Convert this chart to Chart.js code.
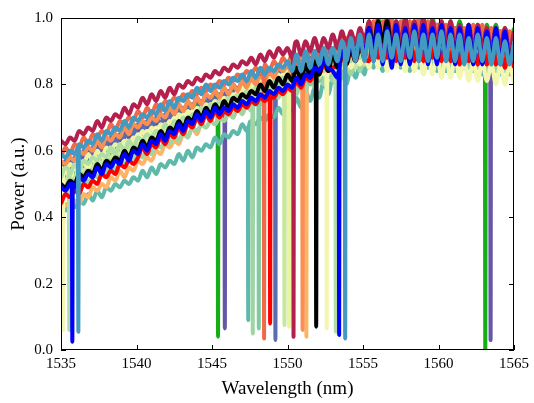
<!DOCTYPE html>
<html>
<head>
<meta charset="utf-8">
<script src="https://cdn.jsdelivr.net/npm/chart.js@4.4.0/dist/chart.umd.min.js"></script>
<style>
  html, body { margin: 0; padding: 0; background: #fff; }
  #wrap { width: 534px; height: 403px; }
</style>
</head>
<body>
<div id="wrap"><canvas id="spectra" width="534" height="403"></canvas></div>
<script>
// spectra sampled every 0.3 nm from 1535 nm (101 samples each)
const wlStart = 1535;
const wlStep = 0.3;

const xTickValues = [1535, 1540, 1545, 1550, 1555, 1560, 1565];
const xTickLabels = ['1535', '1540', '1545', '1550', '1555', '1560', '1565'];
const yTickValues = [0, 0.2, 0.4, 0.6, 0.8, 1.0];
const yTickLabels = ['0.0', '0.2', '0.4', '0.6', '0.8', '1.0'];

// power values (a.u.)
const powerCrimson = [.63,.62,.64,.63,.66,.65,.67,.66,.69,.67,.70,.69,.71,.70,.73,.71,.74,
  .73,.76,.74,.77,.75,.78,.76,.79,.77,.80,.79,.81,.80,.82,.81,.83,.82,
  .84,.83,.85,.84,.86,.85,.87,.86,.88,.86,.89,.87,.90,.88,.91,.89,.91,
  .88,.93,.89,.93,.90,.94,.90,.94,.91,.95,.91,.96,.92,.96,.92,.97,.93,
  .99,.92,.99,.92,1.00,.93,.99,.92,1.00,.93,.99,.93,1.00,.92,.99,.93,.99,.92,.99,.91,.98,.92,.98,.91,.98,.91,.97,.90,.97,.91,.97,.90,.96];
const powerOrange = [.58,.61,.59,.62,.61,.64,.62,.65,.64,.66,.65,.68,.66,.69,.68,.70,.69,
  .72,.70,.73,.71,.74,.72,.75,.74,.76,.75,.77,.76,.78,.77,.79,.78,.80,
  .79,.81,.80,.82,.81,.83,.82,.84,.83,.85,.83,.86,.84,.87,.85,.88,.86,
  .89,.86,.90,.86,.91,.87,.91,.88,.92,.89,.93,.89,.94,.90,.94,.91,.95,
  .92,.99,.91,.99,.92,1.00,.92,.99,.91,.99,.92,1.00,.92,.99,.91,.98,.91,.98,.90,.97,.90,.97,.91,.98,.91,.98,.90,.97,.90,.96,.89,.96,.89];
const powerOrange2 = [.57,.56,.58,.57,.60,.59,.61,.60,.63,.61,.64,.63,.65,.64,.67,.65,.68,
  .67,.69,.68,.70,.69,.71,.70,.73,.71,.74,.72,.75,.73,.76,.74,.77,.76,
  .78,.76,.79,.77,.80,.78,.81,.79,.82,.80,.83,.81,.84,.82,.85,.84,.86,
  .83,.88,.84,.89,.85,.90,.86,.90,.87,.91,.88,.92,.88,.93,.89,.94,.90,
  .98,.90,.98,.91,.98,.90,.97,.91,.98,.91,.99,.91,.98,.90,.98,.91,.97,.90,.97,.90,.97,.91,.98,.90,.97,.90,.96,.89,.96,.89,.96,.90,.95];
const powerLightOrange = [.41,.44,.43,.45,.44,.47,.46,.49,.48,.50,.49,.52,.51,.54,.52,.55,.54,
  .57,.56,.58,.57,.60,.59,.62,.61,.63,.62,.65,.64,.67,.65,.68,.67,.69,
  .68,.70,.69,.72,.70,.73,.72,.74,.73,.76,.74,.77,.76,.78,.77,.79,.78,
  .82,.78,.83,.79,.84,.80,.85,.81,.86,.82,.87,.83,.88,.84,.89,.86,.90,
  .88,.94,.88,.95,.88,.94,.88,.95,.89,.95,.88,.94,.87,.94,.88,.95,.88,.94,.87,.94,.87,.93,.87,.94,.88,.94,.87,.93,.86,.93,.87,.93,.86];
const powerPaleGreen = [.55,.54,.56,.55,.57,.56,.59,.57,.60,.58,.61,.60,.62,.61,.63,.62,.64,
  .63,.66,.64,.67,.65,.68,.67,.69,.68,.71,.69,.72,.70,.73,.72,.74,.73,
  .75,.74,.76,.75,.77,.76,.79,.77,.80,.78,.81,.79,.82,.80,.83,.81,.84,
  .81,.86,.82,.87,.83,.88,.84,.88,.85,.89,.86,.90,.86,.91,.87,.92,.88,
  .95,.89,.95,.89,.96,.89,.95,.90,.95,.89,.95,.88,.94,.89,.95,.88,.94,.88,.94,.87,.93,.87,.93,.86,.93,.86,.92,.86,.92,.85,.91,.85,.91];
const powerPale = [.51,.54,.52,.55,.54,.57,.55,.58,.57,.59,.58,.61,.59,.62,.61,.63,.62,
  .65,.63,.66,.64,.67,.66,.68,.67,.70,.68,.71,.69,.72,.71,.73,.72,.74,
  .73,.75,.74,.76,.75,.78,.76,.79,.77,.80,.79,.81,.80,.82,.81,.83,.82,
  .85,.82,.86,.82,.87,.83,.87,.83,.88,.84,.88,.85,.89,.85,.90,.86,.90,
  .85,.91,.85,.91,.84,.91,.85,.90,.84,.90,.84,.90,.83,.89,.83,.89,.82,.88,.82,.88,.82,.87,.81,.87,.81,.87,.81,.86,.80,.86,.80,.86,.80];
const powerYellowGreen = [.52,.51,.53,.52,.55,.54,.56,.55,.58,.56,.59,.58,.60,.59,.62,.60,.63,
  .62,.64,.63,.65,.64,.67,.65,.68,.67,.69,.68,.70,.69,.72,.70,.73,.71,
  .74,.72,.75,.73,.76,.74,.77,.75,.78,.76,.79,.77,.80,.78,.81,.79,.82,
  .79,.84,.80,.85,.81,.86,.82,.86,.83,.87,.84,.88,.84,.89,.85,.90,.86,
  .94,.87,.94,.86,.93,.87,.94,.86,.93,.87,.94,.87,.93,.86,.94,.86,.93,.87,.93,.86,.93,.86,.92,.86,.93,.86,.92,.85,.92,.85,.91,.85,.91];
const powerLightGreen = [.46,.49,.47,.50,.49,.52,.50,.53,.52,.54,.53,.56,.54,.57,.56,.58,.57,
  .60,.58,.61,.59,.62,.61,.63,.62,.65,.63,.66,.64,.67,.66,.68,.67,.69,
  .68,.70,.69,.71,.70,.73,.71,.74,.72,.75,.74,.76,.75,.77,.76,.78,.77,
  .81,.77,.82,.78,.83,.79,.84,.80,.85,.81,.86,.82,.87,.83,.88,.84,.89,
  .85,.93,.86,.92,.85,.93,.86,.92,.85,.93,.85,.92,.86,.93,.85,.92,.85,.92,.85,.93,.86,.92,.85,.92,.85,.91,.84,.91,.84,.91,.84,.90,.84];
const powerMint = [.51,.50,.52,.51,.54,.53,.55,.54,.57,.55,.58,.57,.59,.58,.61,.59,.62,
  .61,.63,.62,.64,.63,.65,.64,.67,.65,.68,.66,.69,.67,.70,.68,.71,.69,
  .72,.70,.73,.71,.74,.72,.75,.73,.76,.74,.77,.75,.78,.76,.79,.77,.80,
  .78,.82,.79,.83,.80,.84,.81,.85,.82,.86,.83,.87,.84,.88,.85,.90,.86,
  .94,.87,.93,.86,.94,.87,.94,.86,.93,.87,.93,.86,.94,.87,.93,.86,.93,.86,.93,.87,.94,.87,.93,.86,.92,.86,.92,.85,.92,.86,.92,.85,.91];
const powerLightGreen2 = [.52,.55,.53,.56,.54,.57,.56,.58,.57,.59,.58,.61,.59,.62,.60,.63,.61,
  .64,.63,.65,.64,.66,.65,.68,.66,.69,.68,.70,.69,.71,.70,.73,.71,.74,
  .73,.75,.74,.76,.75,.77,.76,.78,.77,.79,.78,.80,.79,.81,.80,.82,.81,
  .85,.81,.85,.82,.86,.83,.87,.84,.88,.85,.89,.86,.90,.87,.91,.88,.92,
  .88,.95,.89,.96,.88,.95,.89,.96,.88,.95,.88,.96,.89,.95,.88,.95,.88,.96,.89,.95,.88,.95,.88,.94,.87,.94,.88,.95,.87,.94,.87,.94,.87];
const powerTeal = [.43,.42,.44,.43,.45,.44,.47,.45,.48,.46,.49,.48,.50,.49,.51,.50,.52,
  .51,.54,.52,.55,.53,.56,.55,.57,.56,.59,.57,.60,.58,.61,.60,.62,.61,
  .64,.62,.65,.64,.66,.65,.68,.66,.69,.68,.70,.69,.71,.70,.73,.71,.74,
  .72,.76,.73,.78,.75,.79,.76,.81,.77,.82,.79,.84,.80,.85,.82,.86,.83,
  .92,.85,.92,.84,.91,.85,.92,.85,.92,.84,.91,.85,.92,.85,.91,.84,.91,.84,.90,.84,.91,.85,.91,.84,.90,.83,.90,.84,.90,.83,.89,.83,.89];
const powerSlate = [.54,.57,.55,.58,.57,.60,.58,.61,.60,.62,.61,.64,.62,.65,.64,.66,.65,
  .68,.66,.69,.67,.70,.68,.71,.70,.72,.71,.73,.72,.74,.73,.75,.74,.76,
  .75,.77,.76,.78,.77,.79,.78,.80,.79,.81,.80,.82,.81,.83,.82,.84,.83,
  .87,.83,.87,.84,.88,.85,.89,.86,.90,.87,.91,.88,.92,.89,.93,.90,.94,
  .91,.98,.90,.97,.91,.98,.90,.97,.90,.98,.91,.97,.90,.97,.90,.98,.91,.97,.90,.97,.90,.96,.89,.96,.90,.97,.89,.96,.89,.96,.89,.95,.88];
const powerBlack = [.50,.49,.51,.50,.53,.52,.54,.53,.56,.54,.57,.56,.58,.57,.60,.58,.61,
  .60,.63,.61,.64,.63,.66,.64,.67,.66,.69,.67,.70,.69,.72,.70,.73,.71,
  .74,.72,.75,.73,.76,.75,.77,.76,.78,.77,.80,.78,.81,.79,.82,.80,.83,
  .81,.85,.81,.86,.82,.87,.83,.88,.84,.89,.85,.90,.86,.91,.87,.92,.88,
  .97,.91,.99,.93,.99,.90,.96,.89,.96,.89,.96,.89,.95,.89,.96,.89,.95,.88,.95,.89,.95,.88,.95,.88,.94,.88,.94,.88,.94,.87,.93,.87,.93];
const powerRed = [.44,.47,.46,.48,.47,.50,.49,.51,.50,.53,.52,.54,.53,.56,.55,.57,.56,
  .58,.61,.59,.62,.61,.64,.62,.65,.64,.67,.65,.68,.67,.70,.68,.71,.69,
  .72,.70,.72,.71,.73,.72,.74,.73,.75,.74,.76,.75,.77,.76,.78,.77,.79,
  .78,.81,.79,.82,.81,.84,.83,.86,.84,.85,.86,.88,.86,.90,.87,.91,.88,
  .87,.94,.88,.95,.88,.94,.87,.95,.88,.94,.87,.94,.87,.95,.88,.94,.87,.94,.87,.93,.86,.94,.87,.93,.86,.93,.86,.93,.86,.92,.85,.92,.85];
const powerGreen = [.53,.52,.54,.53,.56,.55,.57,.56,.59,.57,.60,.59,.61,.60,.63,.61,.64,
  .63,.65,.64,.67,.65,.68,.67,.70,.68,.71,.70,.72,.71,.74,.72,.75,.73,
  .76,.74,.77,.75,.78,.77,.79,.78,.80,.79,.82,.80,.83,.81,.84,.82,.85,
  .83,.87,.83,.88,.84,.89,.85,.90,.86,.91,.87,.92,.88,.93,.89,.94,.90,
  .99,.93,1.00,.93,1.00,.92,.99,.93,1.00,.93,.99,.92,.99,.93,1.00,.93,.99,.92,.99,.92,.99,.93,.98,.92,.98,.91,.98,.92,.98,.91,.97,.91,.97];
const powerPurple = [.56,.55,.57,.56,.59,.58,.60,.59,.62,.60,.63,.62,.64,.63,.66,.64,.67,
  .66,.68,.67,.69,.68,.71,.69,.72,.70,.73,.72,.74,.73,.76,.74,.77,.75,
  .78,.76,.79,.77,.80,.78,.81,.79,.82,.80,.83,.81,.84,.82,.85,.84,.86,
  .83,.88,.84,.89,.85,.90,.86,.90,.87,.91,.88,.92,.88,.93,.89,.94,.90,
  .97,.91,.98,.90,.97,.91,.98,.91,.97,.90,.97,.91,.98,.90,.97,.90,.97,.91,.97,.90,.96,.90,.97,.90,.96,.89,.96,.90,.96,.89,.95,.89,.95];
const powerBlue = [.49,.48,.50,.49,.52,.51,.53,.52,.55,.53,.56,.55,.57,.56,.59,.57,.60,
  .59,.62,.60,.63,.62,.65,.63,.66,.65,.68,.66,.69,.68,.71,.69,.72,.70,
  .73,.71,.73,.72,.74,.73,.75,.74,.76,.75,.77,.76,.78,.77,.79,.78,.80,
  .79,.82,.80,.83,.82,.85,.84,.87,.85,.84,.82,.90,.87,.93,.88,.94,.89,
  .97,.87,.98,.86,.97,.85,.98,.86,.97,.86,.98,.87,.98,.86,.97,.86,.98,.87,.97,.86,.97,.87,.98,.86,.97,.86,.96,.87,.97,.86,.96,.87,.92];
const powerSteel = [.59,.58,.60,.59,.62,.61,.63,.62,.65,.63,.66,.65,.67,.66,.69,.67,.70,
  .69,.71,.70,.72,.71,.74,.72,.75,.73,.76,.75,.77,.76,.79,.77,.80,.78,
  .80,.79,.81,.80,.82,.81,.83,.81,.84,.82,.85,.83,.85,.84,.86,.85,.87,
  .84,.89,.84,.90,.85,.90,.86,.91,.86,.91,.87,.93,.87,.94,.87,.95,.87,
  .95,.87,.95,.87,.96,.88,.95,.87,.95,.88,.96,.87,.95,.87,.95,.88,.96,.87,.95,.87,.95,.86,.94,.87,.95,.87,.94,.86,.94,.86,.93,.86,.93];

// absorption dips: [wavelength, level beside the dip, floor]
const dipsCrimson = [[1550.4, 0.90, 0.04]];
const dipsOrange = [[1548.45, 0.85, 0.035]];
const dipsOrange2 = [[1551.0, 0.87, 0.06]];
const dipsLightOrange = [[1551.25, 0.82, 0.04]];
const dipsPaleGreen = [[1550.1, 0.83, 0.07]];
const dipsPale = [[1535.12, 0.52, 0.06], [1552.6, 0.85, 0.065]];
const dipsYellowGreen = [[1549.8, 0.80, 0.075]];
const dipsLightGreen = [[1547.7, 0.73, 0.05]];
const dipsMint = [[1548.1, 0.75, 0.065]];
const dipsLightGreen2 = [[1535.55, 0.54, 0.06], [1553.2, 0.87, 0.055]];
const dipsTeal = [[1547.4, 0.67, 0.09]];
const dipsSlate = [[1549.2, 0.82, 0.03]];
const dipsBlack = [[1551.9, 0.85, 0.07]];
const dipsRed = [[1548.85, 0.76, 0.08]];
const dipsGreen = [[1545.4, 0.75, 0.04], [1563.1, 0.90, -0.05]];
const dipsPurple = [[1545.85, 0.78, 0.065], [1563.45, 0.92, 0.03]];
const dipsBlue = [[1535.75, 0.50, 0.025], [1553.42, 0.84, 0.045]];
const dipsSteel = [[1536.15, 0.61, 0.055], [1553.82, 0.90, 0.035]];

// bottom to top
const series = [
  {power: powerGreen, dips: dipsGreen, color: '#17ad17'},
  {power: powerPurple, dips: dipsPurple, color: '#6656a8'},
  {power: powerSlate, dips: dipsSlate, color: '#5a6cb2'},
  {power: powerTeal, dips: dipsTeal, color: '#5fb9ab'},
  {power: powerLightOrange, dips: dipsLightOrange, color: '#fdb466'},
  {power: powerLightGreen, dips: dipsLightGreen, color: '#9fd5a3'},
  {power: powerMint, dips: dipsMint, color: '#80c9a5'},
  {power: powerYellowGreen, dips: dipsYellowGreen, color: '#c8e69c'},
  {power: powerPaleGreen, dips: dipsPaleGreen, color: '#eaf5a2'},
  {power: powerPale, dips: dipsPale, color: '#f3f6ae'},
  {power: powerLightGreen2, dips: dipsLightGreen2, color: '#b0dea6'},
  {power: powerOrange2, dips: dipsOrange2, color: '#f98f52'},
  {power: powerOrange, dips: dipsOrange, color: '#ef6a48'},
  {power: powerRed, dips: dipsRed, color: '#ff0000'},
  {power: powerCrimson, dips: dipsCrimson, color: '#b3204d'},
  {power: powerBlack, dips: dipsBlack, color: '#000000'},
  {power: powerBlue, dips: dipsBlue, color: '#0000ff'},
  {power: powerSteel, dips: dipsSteel, color: '#4299c1'}
];

function buildPoints(power, dips){
  const pts = power.map((p, i) => ({x: wlStart + wlStep * i, y: p}));
  dips.forEach(([d, top, floor]) => {
    pts.push({x: d - 0.03, y: top}, {x: d, y: floor}, {x: d + 0.03, y: top});
  });
  pts.sort((a, b) => a.x - b.x);
  return pts;
}

// Chart.js paints dataset 0 last, so flip the list
const datasets = series.map(s => ({
  data: buildPoints(s.power, s.dips),
  borderColor: s.color,
  borderWidth: 4,
  pointRadius: 0,
  fill: false,
  clip: 0,
  cubicInterpolationMode: 'monotone',
  borderJoinStyle: 'round'
})).reverse();

const serif = '"Liberation Serif", "Times New Roman", serif';

// frame with inward ticks on all sides, plus axis titles
const framePlugin = {
  id: 'frame',
  afterDraw(chart){
    const {ctx, chartArea: a, scales: {x, y}} = chart;
    ctx.save();
    ctx.strokeStyle = '#000';
    ctx.lineWidth = 1;
    ctx.beginPath();
    xTickValues.forEach(v => {
      const px = Math.round(x.getPixelForValue(v)) + 0.5;
      ctx.moveTo(px, a.bottom); ctx.lineTo(px, a.bottom - 5);
      ctx.moveTo(px, a.top); ctx.lineTo(px, a.top + 5);
    });
    yTickValues.forEach(v => {
      const py = Math.round(y.getPixelForValue(v)) + 0.5;
      ctx.moveTo(a.left, py); ctx.lineTo(a.left + 5, py);
      ctx.moveTo(a.right, py); ctx.lineTo(a.right - 5, py);
    });
    ctx.stroke();
    ctx.strokeRect(a.left + 0.5, a.top + 0.5, a.right - a.left - 1, a.bottom - a.top - 1);

    ctx.fillStyle = '#000';
    ctx.font = '19px ' + serif;
    ctx.textAlign = 'center';
    ctx.textBaseline = 'alphabetic';
    ctx.fillText('Wavelength (nm)', (a.left + a.right) / 2, 394);
    ctx.translate(24, (a.top + a.bottom) / 2);
    ctx.rotate(-Math.PI / 2);
    ctx.fillText('Power (a.u.)', 0, 0);
    ctx.restore();
  }
};

new Chart(document.getElementById('spectra'), {
  type: 'line',
  data: { datasets: datasets },
  options: {
    responsive: false,
    animation: false,
    devicePixelRatio: 1,
    layout: { padding: { top: 18, right: 20, left: 0, bottom: 0 } },
    plugins: { legend: { display: false }, tooltip: { enabled: false } },
    scales: {
      x: {
        type: 'linear',
        min: 1535,
        max: 1565,
        grid: { display: false, drawTicks: false },
        border: { display: false },
        afterBuildTicks: s => { s.ticks = xTickValues.map(v => ({value: v})); },
        afterFit: s => { s.height = 53; },
        ticks: {
          padding: 5,
          color: '#000',
          autoSkip: false,
          maxRotation: 0,
          font: { family: serif, size: 15 },
          callback: (v, i) => xTickLabels[i]
        }
      },
      y: {
        min: 0,
        max: 1,
        grid: { display: false, drawTicks: false },
        border: { display: false },
        afterBuildTicks: s => { s.ticks = yTickValues.map(v => ({value: v})); },
        afterFit: s => { s.width = 61; },
        ticks: {
          padding: 8,
          color: '#000',
          font: { family: serif, size: 15 },
          callback: (v, i) => yTickLabels[i]
        }
      }
    }
  },
  plugins: [framePlugin]
});
</script>
</body>
</html>
